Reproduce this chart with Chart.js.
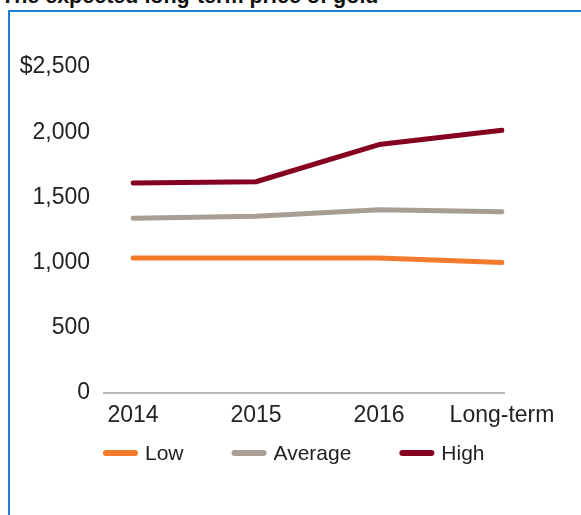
<!DOCTYPE html>
<html>
    <head>
        <title>Gold price</title>
        <script src="https://cdn.jsdelivr.net/npm/chart.js"></script>
    </head>

    <body>
        <div class="ttl">The expected long-term price of gold</div>
        <div class="frame"></div>
        <div class="wrap"><canvas id="goldChart" width="581" height="515"></canvas></div>
        <script>
            // values
            const periods = ['2014', '2015', '2016', 'Long-term'];
            const lowPrice = [1035, 1035, 1035, 1000];
            const avgPrice = [1340, 1355, 1405, 1390];
            const highPrice = [1610, 1620, 1905, 2015];
            const yTicks = ['0', '500', '1,000', '1,500', '2,000', '$2,500'];

            // grey base line, a bit wider than the plot
            const baseLine = {
                id: 'baseLine',
                beforeDatasetsDraw(chart) {
                    const a = chart.chartArea;
                    const c = chart.ctx;
                    c.save();
                    c.strokeStyle = '#a79f97';
                    c.lineWidth = 1.5;
                    c.beginPath();
                    c.moveTo(a.left - 30, a.bottom);
                    c.lineTo(a.right + 3, a.bottom);
                    c.stroke();
                    c.restore();
                }
            };

            // legend row under the axis, starts where the base line starts
            const legendRow = {
                id: 'legendRow',
                afterDraw(chart) {
                    const a = chart.chartArea;
                    const c = chart.ctx;
                    let x = a.left - 30;
                    const y = a.bottom + 60;
                    c.save();
                    c.font = '21px "Liberation Sans"';
                    c.textBaseline = 'middle';
                    chart.data.datasets.forEach(ds => {
                        c.strokeStyle = ds.borderColor;
                        c.lineWidth = 6;
                        c.lineCap = 'round';
                        c.beginPath();
                        c.moveTo(x + 3, y);
                        c.lineTo(x + 32, y);
                        c.stroke();
                        c.fillStyle = '#222';
                        c.fillText(ds.label, x + 42, y + 1);
                        x += 42 + c.measureText(ds.label).width + 48;
                    });
                    c.restore();
                }
            };

            function line(label, data, color) {
                return {
                    label: label,
                    data: data,
                    borderColor: color,
                    backgroundColor: color,
                    borderWidth: 5,
                    borderCapStyle: 'round',
                    borderJoinStyle: 'round',
                    pointRadius: 0,
                    tension: 0
                };
            }

            const ctx = document.getElementById('goldChart');
            const goldChart = new Chart(ctx, {
                type: 'line',
                data: {
                    labels: periods,
                    datasets: [
                        line('Low', lowPrice, '#f47a2b'),
                        line('Average', avgPrice, '#a89e94'),
                        line('High', highPrice, '#860020')
                    ]
                },
                options: {
                    responsive: false,
                    animation: false,
                    layout: {
                        padding: { left: 0, right: 79, top: 67, bottom: 82 }
                    },
                    scales: {
                        x: {
                            offset: false,
                            grid: { display: false },
                            border: { display: false },
                            ticks: {
                                color: '#222',
                                padding: 1,
                                maxRotation: 0,
                                autoSkip: false,
                                font: { family: 'Liberation Sans', size: 23 }
                            },
                            afterFit(s) { s.height = 40; }
                        },
                        y: {
                            min: 0,
                            max: 2500,
                            grid: { display: false },
                            border: { display: false },
                            ticks: {
                                stepSize: 500,
                                color: '#222',
                                padding: 35,
                                font: { family: 'Liberation Sans', size: 23 },
                                callback: (v, i) => yTicks[i]
                            },
                            afterFit(s) { s.width = 133; }
                        }
                    },
                    plugins: {
                        legend: { display: false },
                        tooltip: { enabled: false }
                    }
                },
                plugins: [baseLine, legendRow]
            });
        </script>
    </body>
</html>

<style>
    body {
        margin: 0;
        width: 581px;
        height: 515px;
        overflow: hidden;
        background: #fff;
        position: relative;
    }

    .ttl {
        position: absolute;
        left: 1px;
        top: -16.5px;
        font: bold 21.5px/24px 'Liberation Sans', Arial, sans-serif;
        color: #111;
        white-space: nowrap;
    }

    .frame {
        position: absolute;
        left: 8px;
        top: 10px;
        width: 600px;
        height: 540px;
        border-left: 2px solid #1e7ecf;
        border-top: 2px solid #1e7ecf;
    }

    .wrap {
        position: absolute;
        left: 0;
        top: 0;
    }
</style>
